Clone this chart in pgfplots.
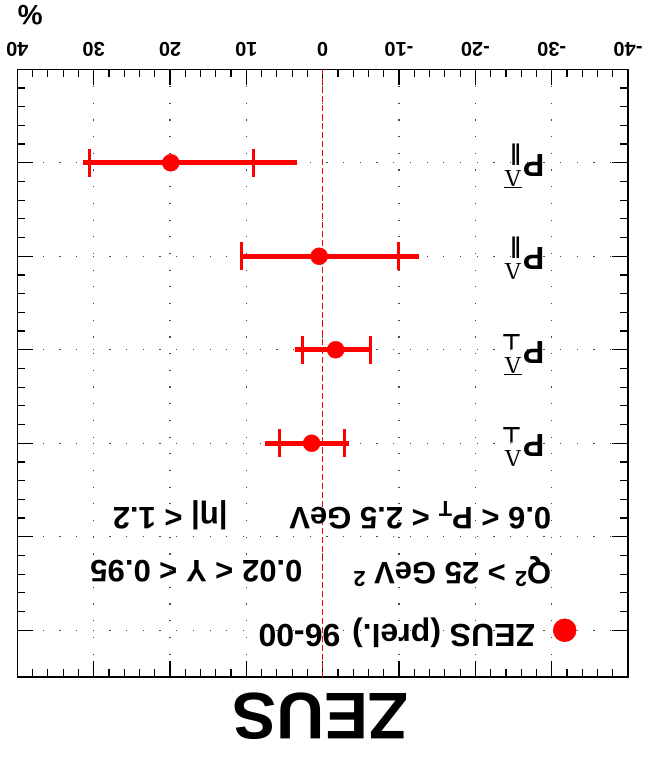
\documentclass[border=0pt]{standalone}
\usepackage{pgfplots}
\pgfplotsset{compat=1.18}
\usepackage{fontspec}
\setmainfont{Liberation Sans}
\newfontfamily\serifsym{Liberation Serif}
\newfontfamily\dejavu{DejaVu Sans}
\newcommand{\plab}[3]{%
  {\fontsize{32}{32}\selectfont\bfseries P}\kern1.5pt%
  \rlap{\raisebox{16pt}{\fontsize{24}{24}\selectfont\serifsym #1}}%
  \raisebox{#3}{\fontsize{22}{22}\selectfont\dejavu\bfseries #2}}
\newcommand{\barL}{$\overline{\hbox{\serifsym Λ}}$}
\begin{document}
\begin{tikzpicture}
\begin{axis}[
  scale only axis, width=611pt, height=608pt,
  xmin=-40, xmax=40, ymin=0, ymax=6.5,
  x dir=reverse, y dir=reverse,
  clip=false,
  axis line style={line width=1.5pt},
  xtick={-40,-30,...,40},
  xticklabels={{-40},{-30},{-20},{-10},0,10,20,30,40},
  minor x tick num=4,
  ytick={0,1,...,6},
  yticklabels={},
  minor y tick num=4,
  tick align=inside,
  xtick pos=both, ytick pos=both,
  xticklabel pos=right,
  xticklabel shift=9pt,
  major tick length=16pt, minor tick length=8pt,
  tick style={black, line width=1.2pt},
  grid=major,
  major grid style={gray!60!black, line width=1.2pt, dash pattern=on 1.2pt off 15.5pt},
  xticklabel style={rotate=180, font=\fontsize{20}{20}\selectfont\bfseries},
]
% zero line
\addplot[red, line width=1.2pt, dash pattern=on 6pt off 3pt] coordinates {(0,0) (0,6.5)};
% total error extent
\addplot[red, line width=4.8pt] coordinates {(31.4,1) (3.3,1)};
\addplot[red, line width=4.8pt] coordinates {(10.6,2) (-12.6,2)};
\addplot[red, line width=4.8pt] coordinates {(3.6,3) (-6.2,3)};
\addplot[red, line width=4.8pt] coordinates {(7.6,4) (-3.4,4)};
% caps
\addplot[red, only marks, mark=|, mark size=14pt, mark options={line width=3pt}]
  coordinates {(30.6,1) (9.1,1) (10.6,2) (-9.9,2) (2.6,3) (-6.2,3) (5.6,4) (-2.9,4)};
% central values
\addplot[red, only marks, mark=*, mark size=8.5pt]
  coordinates {(19.9,1) (0.46,2) (-1.7,3) (1.45,4)};
% legend marker
\addplot[red, only marks, mark=*, mark size=11.5pt] coordinates {(-31.7,6)};

% row labels
\node[rotate=180, anchor=base west] at (axis cs:-29.5,0.91) {\plab{\barL}{∥}{-6pt}};
\node[rotate=180, anchor=base west] at (axis cs:-29.5,1.91) {\plab{Λ}{∥}{-6pt}};
\node[rotate=180, anchor=base west] at (axis cs:-29.5,2.91) {\plab{\barL}{⊥}{-7pt}};
\node[rotate=180, anchor=base west] at (axis cs:-29.5,3.91) {\plab{Λ}{⊥}{-7pt}};

% cut texts
\node[rotate=180, anchor=west, font=\fontsize{31}{31}\selectfont\bfseries] at (axis cs:-30.4,4.77) {0.6 < P\textsubscript{T} < 2.5 GeV};
\node[rotate=180, anchor=west, font=\fontsize{31}{31}\selectfont\bfseries] at (axis cs:12.0,4.77) {|η| < 1.2};
\node[rotate=180, anchor=west, font=\fontsize{31}{31}\selectfont\bfseries] at (axis cs:-30.4,5.37) {Q\textsuperscript{2} > 25 GeV\;\textsuperscript{2}};
\node[rotate=180, anchor=west, font=\fontsize{31}{31}\selectfont\bfseries] at (axis cs:2.2,5.37) {0.02 < Y < 0.95};
\node[rotate=180, anchor=west, font=\fontsize{32}{32}\selectfont\bfseries] at (axis cs:-28.3,6.03) {ZEUS (prel.) 96-00};

% axis unit and experiment label
\node[rotate=180, font=\fontsize{28}{28}\selectfont\bfseries] at (axis cs:38.3,-0.58) {\%};
\node[rotate=180, font=\fontsize{66}{66}\selectfont\bfseries] at (axis cs:0.3,6.92) {ZEUS};

% page extent
\path (axis cs:42.27,-0.741) rectangle (axis cs:-42.23,7.377);
\end{axis}
\end{tikzpicture}
\end{document}
